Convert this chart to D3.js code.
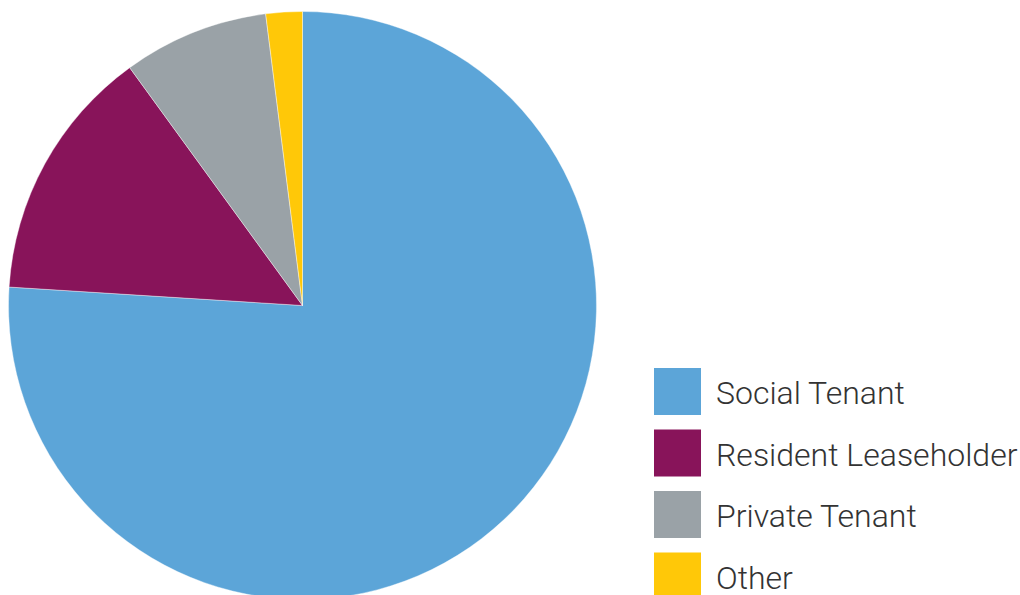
<!DOCTYPE html>
<html>
<head>
<meta charset="utf-8">
<script src="https://cdn.jsdelivr.net/npm/d3@7"></script>
<style>
  html, body { margin: 0; padding: 0; background: #fff; }
  svg { display: block; }
</style>
</head>
<body>
<svg id="chart" width="1020" height="595"></svg>
<script>
const categories = ["Social Tenant", "Resident Leaseholder", "Private Tenant", "Other"];
const values = [76, 14, 8, 2];
const colors = ["#5CA5D8", "#88145A", "#9AA2A7", "#FFC808"];

const svg = d3.select("#chart");
const cx = 302.5, cy = 305.5, r = 294;

const pie = d3.pie().sort(null).value(d => d.value);
const data = categories.map((c, i) => ({ name: c, value: values[i], color: colors[i] }));
const arc = d3.arc().innerRadius(0).outerRadius(r);

svg.append("g")
  .attr("transform", `translate(${cx},${cy})`)
  .selectAll("path")
  .data(pie(data))
  .join("path")
  .attr("d", arc)
  .attr("fill", d => d.data.color)
  .attr("stroke", "#fff")
  .attr("stroke-width", 0.4);

const legendY = d3.scalePoint().domain(categories).range([368, 552.5]);
const lg = svg.append("g");
const items = lg.selectAll("g").data(data).join("g")
  .attr("transform", d => `translate(654,${legendY(d.name)})`);
items.append("rect")
  .attr("width", 47).attr("height", 47)
  .attr("fill", d => d.color);
items.append("text")
  .attr("x", 62).attr("y", 36)
  .attr("font-family", "Roboto, sans-serif")
  .attr("font-weight", 300)
  .attr("font-size", 32)
  .attr("fill", "#333")
  .text(d => d.name);
</script>
</body>
</html>
